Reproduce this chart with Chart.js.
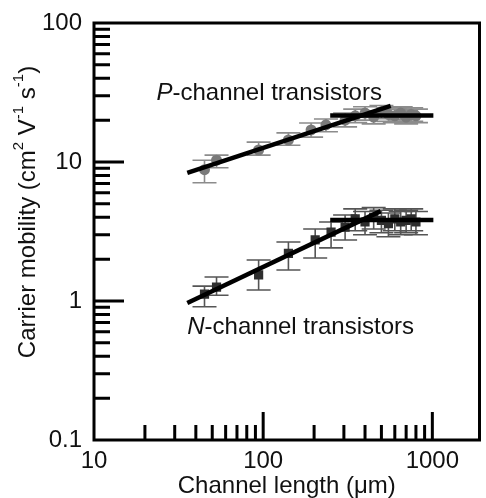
<!DOCTYPE html>
<html>
<head>
<meta charset="utf-8">
<script src="https://cdn.jsdelivr.net/npm/chart.js@4.4.1/dist/chart.umd.min.js"></script>
<style>
  html, body { margin: 0; padding: 0; background: #fff; }
  #wrap { width: 486px; height: 498px; }
</style>
</head>
<body>
<div id="wrap"><canvas id="mobilityChart"></canvas></div>
<script>
// P-channel measurements (channel length in um, mobility in cm2/Vs)
const pLength   = [45, 53, 94, 141, 192, 235, 305, 350, 400, 450, 500, 550, 600, 650, 700, 750, 800];
const pMobility = [8.8, 10.3, 12.2, 14.4, 17.0, 18.5, 20.0, 21.5, 22.5, 21.0, 23.0, 22.0, 21.5, 22.5, 21.0, 22.0, 21.5];
const pLow      = [7.1, 9.1, 11.2, 13.2, 15.1, 16.5, 17.9, 19.2, 20.0, 18.8, 20.5, 19.6, 19.2, 20.1, 18.8, 19.6, 19.2];
const pHigh     = [10.3, 11.2, 13.9, 16.2, 19.1, 20.4, 22.5, 24.0, 25.0, 23.4, 25.5, 24.5, 24.0, 25.0, 23.4, 24.5, 24.0];

// N-channel measurements
const nLength   = [45, 53, 94, 141, 203, 252, 305, 350, 400, 450, 500, 550, 600, 650, 700, 750, 800];
const nMobility = [1.12, 1.26, 1.54, 2.2, 2.75, 3.13, 3.4, 3.9, 3.7, 4.0, 3.8, 3.6, 3.9, 3.7, 3.8, 3.9, 3.7];
const nLow      = [0.91, 1.10, 1.20, 1.67, 2.04, 2.41, 2.75, 3.2, 3.0, 3.3, 3.1, 2.9, 3.2, 3.0, 3.1, 3.2, 3.0];
const nHigh     = [1.28, 1.49, 1.97, 2.66, 3.30, 3.70, 4.16, 4.6, 4.4, 4.7, 4.5, 4.3, 4.6, 4.4, 4.5, 4.6, 4.4];

// fitted lines
const pFitX = [35.6, 567];   const pFitY = [8.34, 25.3];
const pFlatX = [249, 1014];  const pFlatY = [21.6, 21.6];
const nFitX = [35.6, 495];   const nFitY = [0.967, 4.43];
const nFlatX = [249, 1014];  const nFlatY = [3.83, 3.83];

// axes
const xMajor = [10, 100, 1000];
const yMajor = [0.1, 1, 10, 100];
const xMin = 10, xMax = 1900, yMin = 0.1, yMax = 100;

// annotations (data coords of left / middle of text)
const labelTexts = [
  { parts: [['P', true], ['-channel transistors', false]], x: 23.4, y: 31 },
  { parts: [['N', true], ['-channel transistors', false]], x: 35.6, y: 0.65 }
];
const xTitle = 'Channel length (\u03bcm)';
const yTitleParts = [['Carrier mobility (cm', false], ['2', true], [' V', false], ['-1', true], [' s', false], ['-1', true], [')', false]];

const FONT = '"Liberation Sans", Arial, sans-serif';
const FS = 24;

function toPoints(xs, ys) {
  return xs.map((x, i) => ({ x: x, y: ys[i] }));
}
function isMajor(v, list) {
  return list.some(m => Math.abs(Math.log10(v) - Math.log10(m)) < 1e-6);
}
// 2..9 times a power of ten
function isMinor(v) {
  const s = v / Math.pow(10, Math.floor(Math.log10(v) + 1e-9));
  return Math.abs(s - Math.round(s)) < 1e-6;
}

const fitStyle = { showLine: true, borderColor: '#000', borderWidth: 4.5, pointRadius: 0, fill: false, order: 0 };

const extrasPlugin = {
  id: 'extras',
  beforeDatasetsDraw(chart) {
    const ctx = chart.ctx;
    const xs = chart.scales.x, ys = chart.scales.y;
    chart.data.datasets.forEach(ds => {
      if (!ds.errLow) return;
      ctx.save();
      ctx.strokeStyle = ds.errColor;
      ctx.lineWidth = 1.6;
      ds.data.forEach((p, i) => {
        const px = xs.getPixelForValue(p.x);
        const lo = ys.getPixelForValue(ds.errLow[i]);
        const hi = ys.getPixelForValue(ds.errHigh[i]);
        ctx.beginPath();
        ctx.moveTo(px, lo); ctx.lineTo(px, hi);
        ctx.moveTo(px - 12, lo); ctx.lineTo(px + 12, lo);
        ctx.moveTo(px - 12, hi); ctx.lineTo(px + 12, hi);
        ctx.stroke();
      });
      ctx.restore();
    });
  },
  afterDraw(chart) {
    const ctx = chart.ctx;
    const a = chart.chartArea;
    const xs = chart.scales.x, ys = chart.scales.y;
    ctx.save();
    ctx.strokeStyle = '#000';
    ctx.lineWidth = 3;
    ctx.strokeRect(a.left, a.top, a.right - a.left, a.bottom - a.top);

    // inward ticks
    ctx.beginPath();
    xs.ticks.forEach(t => {
      if (t.value <= xMin || t.value >= xMax || !isMinor(t.value)) return;
      const px = xs.getPixelForValue(t.value);
      const len = isMajor(t.value, xMajor) ? 28 : 15;
      ctx.moveTo(px, a.bottom); ctx.lineTo(px, a.bottom - len);
    });
    ys.ticks.forEach(t => {
      if (t.value <= yMin || t.value >= yMax || !isMinor(t.value)) return;
      const py = ys.getPixelForValue(t.value);
      const len = isMajor(t.value, yMajor) ? 30 : 16;
      ctx.moveTo(a.left, py); ctx.lineTo(a.left + len, py);
    });
    ctx.lineWidth = 3;
    ctx.stroke();

    // annotations
    ctx.fillStyle = '#111';
    ctx.textBaseline = 'middle';
    ctx.textAlign = 'left';
    labelTexts.forEach(l => {
      let cx = xs.getPixelForValue(l.x);
      const cy = ys.getPixelForValue(l.y);
      l.parts.forEach(([txt, it]) => {
        ctx.font = (it ? 'italic ' : '') + FS + 'px ' + FONT;
        ctx.fillText(txt, cx, cy);
        cx += ctx.measureText(txt).width;
      });
    });

    // x title
    ctx.font = FS + 'px ' + FONT;
    ctx.textAlign = 'center';
    ctx.fillText(xTitle, (a.left + a.right) / 2, 486);

    // y title, rotated, with superscripts
    ctx.translate(28, 212);
    ctx.rotate(-Math.PI / 2);
    ctx.textAlign = 'left';
    let total = 0;
    yTitleParts.forEach(([txt, sup]) => {
      ctx.font = (sup ? '15px ' : FS + 'px ') + FONT;
      total += ctx.measureText(txt).width;
    });
    let cx = -total / 2;
    yTitleParts.forEach(([txt, sup]) => {
      ctx.font = (sup ? '15px ' : FS + 'px ') + FONT;
      ctx.fillText(txt, cx, sup ? -9 : 0);
      cx += ctx.measureText(txt).width;
    });
    ctx.restore();
  }
};

const ctx = document.getElementById('mobilityChart').getContext('2d');
window.myChart = new Chart(ctx, {
  type: 'scatter',
  data: {
    datasets: [
      Object.assign({ data: toPoints(pFitX, pFitY) }, fitStyle),
      Object.assign({ data: toPoints(pFlatX, pFlatY) }, fitStyle),
      Object.assign({ data: toPoints(nFitX, nFitY) }, fitStyle),
      Object.assign({ data: toPoints(nFlatX, nFlatY) }, fitStyle),
      {
        label: 'P-channel',
        data: toPoints(pLength, pMobility),
        errLow: pLow, errHigh: pHigh, errColor: '#8c8c8c',
        pointStyle: 'circle', pointRadius: 5.5,
        backgroundColor: '#7a7a7a', borderColor: '#7a7a7a', borderWidth: 0,
        order: 1
      },
      {
        label: 'N-channel',
        data: toPoints(nLength, nMobility),
        errLow: nLow, errHigh: nHigh, errColor: '#555',
        pointStyle: 'rect', pointRadius: 6.5,
        backgroundColor: '#2e2e2e', borderColor: '#2e2e2e', borderWidth: 0,
        order: 1
      }
    ]
  },
  options: {
    responsive: true,
    maintainAspectRatio: false,
    animation: false,
    layout: { padding: { top: 23, right: 2, left: 0, bottom: 0 } },
    plugins: {
      legend: { display: false },
      tooltip: { enabled: false }
    },
    scales: {
      x: {
        type: 'logarithmic',
        min: xMin, max: xMax,
        grid: { display: false, drawTicks: false },
        border: { display: false },
        ticks: {
          autoSkip: false, maxRotation: 0, padding: 7,
          color: '#111', font: { size: FS, family: FONT },
          callback: v => isMajor(v, xMajor) && v < xMax ? String(v) : ''
        },
        afterFit: s => { s.height = 58; s.paddingLeft = 0; s.paddingRight = 0; }
      },
      y: {
        type: 'logarithmic',
        min: yMin, max: yMax,
        grid: { display: false, drawTicks: false },
        border: { display: false },
        ticks: {
          autoSkip: false, padding: 12,
          color: '#111', font: { size: FS, family: FONT },
          callback: v => isMajor(v, yMajor) ? String(v) : ''
        },
        afterFit: s => { s.width = 94; s.paddingTop = 0; s.paddingBottom = 0; }
      }
    }
  },
  plugins: [extrasPlugin]
});
</script>
</body>
</html>
